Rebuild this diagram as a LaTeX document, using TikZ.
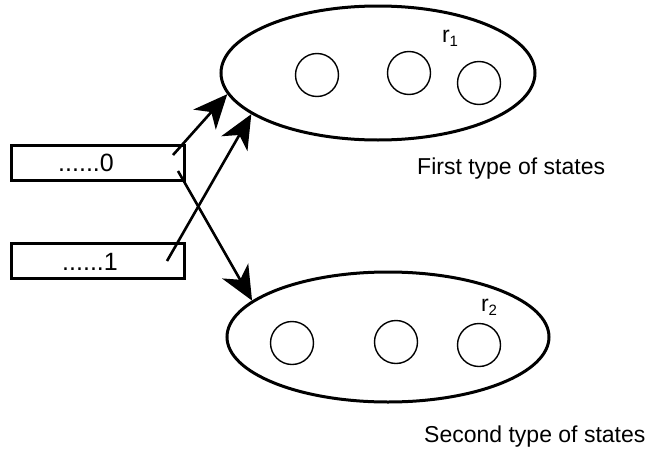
\documentclass[tikz,border=0pt]{standalone}
\usepackage{fontspec}
\setmainfont{Liberation Sans}
\usetikzlibrary{shapes.geometric,arrows.meta}
\begin{document}
\begin{tikzpicture}[x=1pt,y=-1pt,
  stateset/.style={draw,ellipse,line width=3pt,inner sep=0pt},
  statecirc/.style={draw,circle,line width=1.4pt,minimum size=43pt,inner sep=0pt},
  codebox/.style={draw,rectangle,line width=3pt,minimum width=173pt,minimum height=35pt,inner sep=0pt},
  codetext/.style={font=\fontsize{25}{28}\selectfont,inner sep=0pt},
  lbl/.style={font=\fontsize{23}{26}\selectfont,inner sep=0pt},
  linkarrow/.style={line width=2.6pt,-{Stealth[length=34pt,width=30pt,inset=10pt,fill=black]}}]
\useasboundingbox (0,0) rectangle (651,450);

% upper set of states
\node[stateset,minimum width=314pt,minimum height=134pt] (s1) at (378,73) {};
\node[statecirc] (a1) at (317,75) {};
\node[statecirc] (a2) at (409,73) {};
\node[statecirc] (a3) at (479,83) {};
\node[lbl] (r1) at (450,38) {r\raisebox{-0.35ex}{\fontsize{15}{16}\selectfont 1}};
\node[lbl,anchor=west] (t1) at (417,169) {First type of states};

% lower set of states
\node[stateset,minimum width=322pt,minimum height=130pt] (s2) at (388,337) {};
\node[statecirc] (b1) at (292,343) {};
\node[statecirc] (b2) at (396,342) {};
\node[statecirc] (b3) at (479,345) {};
\node[lbl] (r2) at (489,307) {r\raisebox{-0.35ex}{\fontsize{15}{16}\selectfont 2}};
\node[lbl,anchor=west] (t2) at (424,437) {Second type of states};

% codeword boxes
\node[codebox] (c0) at (98,163) {};
\node[codebox] (c1) at (98,261) {};
\node[codetext] (c0t) at (86,163) {......0};
\node[codetext] (c1t) at (90,262) {......1};

% connector start points inside the boxes
\coordinate (p0a) at (173,155);
\coordinate (p0b) at (178,171);
\coordinate (p1) at (167,261);

\draw[linkarrow] (p0a) -- (s1.188);
\draw[linkarrow] (p1) -- (s1.198);
\draw[linkarrow] (p0b) -- (s2.165);
\end{tikzpicture}
\end{document}
